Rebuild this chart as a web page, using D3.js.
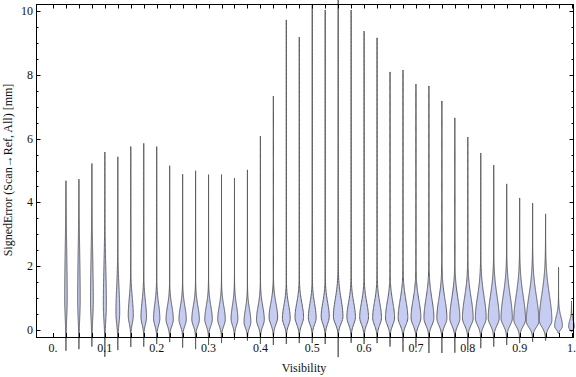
<!DOCTYPE html>
<html>
<head>
<meta charset="utf-8">
<script src="https://cdn.jsdelivr.net/npm/d3@7"></script>
<style>
  body { margin: 0; background: #fff; }
  text { font-family: "Liberation Serif", "DejaVu Serif", serif; fill: #111; }
</style>
</head>
<body>
<div id="chart"></div>
<script>
// Chart size
var Chart_Width = 576;
var Chart_Height = 377;

// frame of the plot, in pixels
var frame = { left: 36, right: 574, top: 4, bottom: 337 };

// one violin per visibility bin
var visibility = [0.025, 0.05, 0.075, 0.1, 0.125, 0.15, 0.175, 0.2, 0.225, 0.25,
  0.275, 0.3, 0.325, 0.35, 0.375, 0.4, 0.425, 0.45, 0.475, 0.5,
  0.525, 0.55, 0.575, 0.6, 0.625, 0.65, 0.675, 0.7, 0.725, 0.75,
  0.775, 0.8, 0.825, 0.85, 0.875, 0.9, 0.925, 0.95, 0.975, 1.0];

// largest signed error in each bin [mm]
var maxErr = [4.68, 4.73, 5.22, 5.58, 5.43, 5.75, 5.85, 5.75, 5.15, 4.88,
  4.99, 4.87, 4.87, 4.76, 5.02, 6.08, 7.33, 9.72, 9.18, 10.19,
  10.03, 10.45, 10.03, 9.37, 9.16, 8.09, 8.15, 7.71, 7.65, 7.18,
  6.65, 6.05, 5.55, 5.17, 4.58, 4.14, 3.98, 3.64, 1.97, 0.91];

// smallest signed error in each bin [mm]
var minErr = [-0.65, -0.6, -0.52, -0.84, -0.63, -0.53, -0.52, -0.44, -0.38, -0.55,
  -0.6, -0.47, -0.41, -0.31, -0.33, -0.44, -0.47, -0.44, -0.41, -0.41,
  -0.44, -0.85, -0.4, -0.44, -0.41, -0.52, -0.68, -0.55, -0.72, -0.72,
  -0.71, -0.63, -0.57, -0.52, -0.47, -0.41, -0.37, -0.33, -0.1, -0.05];

// where the density is highest [mm]
var modeErr = [1.0, 0.95, 0.9, 0.8, 0.55, 0.45, 0.4, 0.36, 0.33, 0.33,
  0.33, 0.33, 0.33, 0.35, 0.25, 0.32, 0.4, 0.36, 0.4, 0.38,
  0.42, 0.42, 0.4, 0.4, 0.38, 0.38, 0.38, 0.38, 0.37, 0.37,
  0.37, 0.37, 0.37, 0.37, 0.37, 0.32, 0.27, 0.3, 0.12, 0.1];

// relative peak density of each bin
var peakDensity = [0.2, 0.2, 0.22, 0.24, 0.3, 0.4, 0.44, 0.5, 0.58, 0.58,
  0.6, 0.6, 0.6, 0.54, 0.54, 0.62, 0.68, 0.62, 0.68, 0.62,
  0.64, 0.76, 0.68, 0.7, 0.7, 0.72, 0.77, 0.78, 0.79, 0.8,
  0.8, 0.85, 0.86, 0.87, 0.9, 0.93, 1.0, 1.0, 0.62, 0.46];

// spread of the density above / below the mode [mm]
var upSpread = [1.5, 1.5, 1.4, 1.2, 0.8, 0.55, 0.5, 0.46, 0.42, 0.42,
  0.42, 0.42, 0.42, 0.42, 0.4, 0.42, 0.44, 0.42, 0.44, 0.44,
  0.44, 0.55, 0.46, 0.46, 0.48, 0.5, 0.55, 0.55, 0.6, 0.6,
  0.62, 0.65, 0.68, 0.7, 0.72, 0.75, 0.78, 0.8, 0.3, 0.2];
var downSpread = [0.6, 0.6, 0.55, 0.5, 0.35, 0.24, 0.22, 0.21, 0.2, 0.2,
  0.2, 0.2, 0.2, 0.2, 0.18, 0.2, 0.22, 0.2, 0.22, 0.2,
  0.22, 0.22, 0.22, 0.22, 0.22, 0.22, 0.22, 0.22, 0.22, 0.22,
  0.22, 0.22, 0.22, 0.22, 0.22, 0.2, 0.18, 0.2, 0.1, 0.08];

var xTickLabels = ["0.", "0.1", "0.2", "0.3", "0.4", "0.5", "0.6", "0.7", "0.8", "0.9", "1."];
var yTickLabels = ["0", "2", "4", "6", "8", "10"];

var svg = d3.select("#chart")
  .append("svg")
  .attr("width", Chart_Width)
  .attr("height", Chart_Height);

// scales
var xScale = d3.scaleLinear().domain([0, 1]).range([53, 571.5]);
var yScale = d3.scaleLinear().domain([0, 10]).range([330, 11]);
var wScale = d3.scaleLinear().domain([0, 1]).range([0, 6.3]);

// density profile of one violin at error value e
function profile(i, e) {
  var d = e - modeErr[i];
  var s = d >= 0 ? upSpread[i] : downSpread[i];
  var g = Math.exp(-0.5 * (d / s) * (d / s));
  var tail = 0.04 * Math.exp(-Math.abs(d) / (2 * s));
  return peakDensity[i] * (0.96 * g + tail);
}

var violinData = visibility.map(function(v, i) {
  var n = 240;
  var pts = [];
  for (var k = 0; k <= n; k++) {
    var e = minErr[i] + (maxErr[i] - minErr[i]) * k / n;
    var w = (k === 0 || k === n) ? 0 : profile(i, e);
    pts.push({ e: e, w: w });
  }
  return { v: v, pts: pts };
});

var violinGroup = svg.append("g");

violinGroup.selectAll("path")
  .data(violinData)
  .enter()
  .append("path")
  .attr("d", function(d) {
    var cx = xScale(d.v);
    return d3.area()
      .y(p => yScale(p.e))
      .x0(p => cx - wScale(p.w))
      .x1(p => cx + wScale(p.w))(d.pts);
  })
  .attr("fill", "#c6ccf2")
  .attr("stroke", "#505050")
  .attr("stroke-opacity", 0.9)
  .attr("stroke-width", 1);

// frame
var axisGroup = svg.append("g")
  .attr("stroke", "#000")
  .attr("stroke-width", 1)
  .attr("fill", "none");

axisGroup.append("rect")
  .attr("x", frame.left + 0.5)
  .attr("y", frame.top + 0.5)
  .attr("width", frame.right - frame.left - 1)
  .attr("height", frame.bottom - frame.top);

// x ticks: top and bottom, every 0.025
var xTicks = d3.range(0, 41).map(k => k / 40);
xTicks.forEach(function(t) {
  var x = Math.round(xScale(t)) + 0.5;
  axisGroup.append("line").attr("x1", x).attr("x2", x)
    .attr("y1", frame.top).attr("y2", frame.top + 4.5);
  axisGroup.append("line").attr("x1", x).attr("x2", x)
    .attr("y1", frame.bottom + 0.5).attr("y2", frame.bottom - 4);
});

// y ticks: left and right, majors every 2, minors every 0.5
var yTicks = d3.range(0, 21).map(k => k / 2);
yTicks.forEach(function(t) {
  var y = Math.round(yScale(t)) + 0.5;
  var len = (t % 2 === 0) ? 4.5 : 2.5;
  axisGroup.append("line").attr("x1", frame.left).attr("x2", frame.left + len)
    .attr("y1", y).attr("y2", y);
  axisGroup.append("line").attr("x1", frame.right).attr("x2", frame.right - len)
    .attr("y1", y).attr("y2", y);
});

// tick labels
svg.append("g").selectAll("text")
  .data(xTickLabels)
  .enter()
  .append("text")
  .attr("x", (d, i) => xScale(i / 10))
  .attr("y", 352)
  .attr("text-anchor", "middle")
  .attr("font-size", "12px")
  .text(d => d);

svg.append("g").selectAll("text")
  .data(yTickLabels)
  .enter()
  .append("text")
  .attr("x", 33)
  .attr("y", (d, i) => yScale(i * 2) + 4)
  .attr("text-anchor", "end")
  .attr("font-size", "12px")
  .text(d => d);

// axis titles
svg.append("text")
  .attr("x", 304)
  .attr("y", 372)
  .attr("text-anchor", "middle")
  .attr("font-size", "12px")
  .text("Visibility");

svg.append("text")
  .attr("transform", "translate(12, 170) rotate(-90)")
  .attr("text-anchor", "middle")
  .attr("font-size", "12px")
  .text("SignedError (Scan\u2192Ref, All) [mm]");
</script>
</body>
</html>
